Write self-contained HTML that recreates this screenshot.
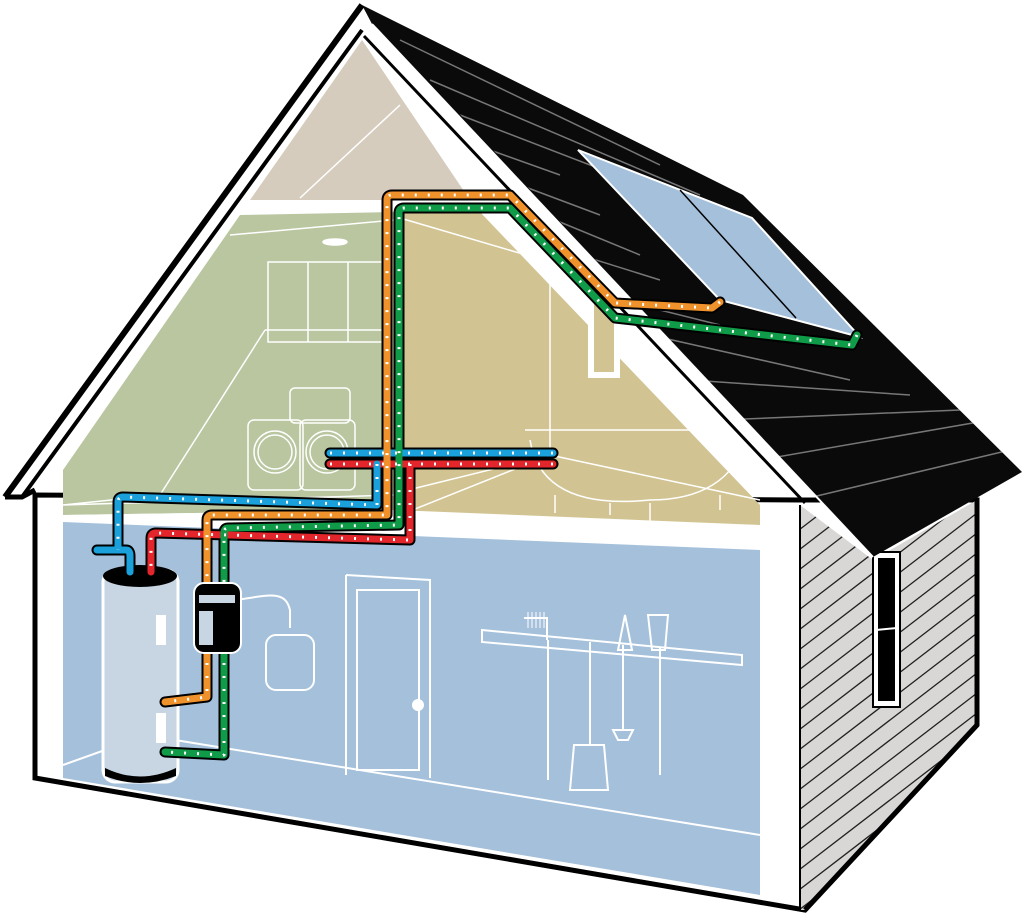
<!DOCTYPE html>
<html><head><meta charset="utf-8"><style>html,body{margin:0;padding:0;background:#fff;width:1024px;height:921px;overflow:hidden}svg{display:block}</style></head>
<body>
<svg width="1024" height="921" viewBox="0 0 1024 921" xmlns="http://www.w3.org/2000/svg">
<defs>
<clipPath id="sid"><polygon points="800,505 873,560 977,500 977,725 805,910 800,910"/></clipPath>
<clipPath id="roofc"><polygon points="372,20 362,5 743,195 1022,472 873,557"/></clipPath>
</defs>
<rect width="1024" height="921" fill="#fff"/>
<polygon points="35,495 35,778 805,910 977,725 977,500 800,500" fill="#fff" stroke="#000" stroke-width="5"/>
<polygon points="800,505 873,560 977,500 977,725 805,910 800,910" fill="#d9d7d5"/>
<g clip-path="url(#sid)" stroke="#222" stroke-width="1.3">
<path d="M760,560 l260,-200 M760,580 l260,-200 M760,600 l260,-200 M760,620 l260,-200 M760,640 l260,-200 M760,660 l260,-200 M760,680 l260,-200 M760,700 l260,-200 M760,720 l260,-200 M760,740 l260,-200 M760,760 l260,-200 M760,780 l260,-200 M760,800 l260,-200 M760,820 l260,-200 M760,840 l260,-200 M760,860 l260,-200 M760,880 l260,-200 M760,900 l260,-200 M760,920 l260,-200 M760,940 l260,-200 M760,960 l260,-200 M760,980 l260,-200 M760,1000 l260,-200"/>
</g>
<line x1="977" y1="500" x2="977" y2="725" stroke="#000" stroke-width="5"/>
<line x1="977" y1="725" x2="805" y2="910" stroke="#000" stroke-width="5"/>
<line x1="800" y1="505" x2="800" y2="910" stroke="#000" stroke-width="2"/>
<rect x="873" y="552" width="27" height="155" fill="#fff" stroke="#000" stroke-width="2"/>
<rect x="878" y="558" width="17" height="143" fill="#000"/>
<line x1="876" y1="630" x2="897" y2="628" stroke="#fff" stroke-width="2"/>

<polygon points="250,200 362,40 470,200" fill="#d5ccbe"/>
<line x1="300" y1="198" x2="400" y2="105" stroke="#fff" stroke-width="1.5"/>
<polygon points="63,470 240,215 395,212 395,510 63,515" fill="#b9c6a0"/>
<polygon points="395,212 480,212 760,505 760,525 395,520" fill="#d2c492"/>
<g stroke="#fff" stroke-width="1.5" fill="none">
<path d="M230,235 L395,220 M63,505 L395,495 M63,505 L160,495 M160,495 L265,330 M265,330 L385,330"/>
<path d="M400,218 L550,262 L550,455 M550,262 L590,262 M400,492 L550,455 L760,500 M400,515 L550,455"/>
<rect x="268" y="262" width="120" height="80"/>
<path d="M308,262 V342 M348,262 V342"/>
<ellipse cx="335" cy="242" rx="12" ry="3" fill="#fff"/>
<rect x="248" y="420" width="55" height="70" rx="6"/>
<rect x="300" y="420" width="55" height="70" rx="6"/>
<rect x="290" y="388" width="60" height="35" rx="5"/>
<circle cx="275" cy="452" r="21"/><circle cx="275" cy="452" r="17"/>
<circle cx="327" cy="452" r="21"/><circle cx="327" cy="452" r="17"/>
<path d="M525,430 H760 M530,440 C540,500 600,505 650,500 C700,500 735,480 745,440 M555,495 v18 M610,503 v12 M650,503 v18 M720,495 v15"/>
</g>
<rect x="588" y="290" width="32" height="88" fill="#fff"/>
<rect x="594" y="296" width="20" height="76" fill="#d2c492"/>
<polygon points="63,515 395,510 760,525 760,548 63,522" fill="#fff"/>
<polygon points="63,522 760,550 760,895 63,778" fill="#a4c0db"/>
<g stroke="#fff" stroke-width="2" fill="none">
<path d="M63,765 L105,750 M175,740 L760,835"/>
<path d="M346,575 V775 M346,575 L430,580 V778"/>
<rect x="357" y="590" width="62" height="180"/>
<circle cx="418" cy="705" r="5" fill="#fff"/>
<rect x="266" y="635" width="48" height="55" rx="10"/>
<path d="M236,600 C270,595 285,590 290,610 V628"/>
<polygon points="482,630 742,655 742,665 482,642"/>
<path d="M524,618 H547 V640 M548,640 V780 M590,642 V745 M574,745 L604,745 L608,790 L570,790 Z M623,645 V730 M613,730 L633,730 L628,740 L618,740 Z M625,615 L632,650 L618,650 Z M660,648 V775 M648,615 H668 L665,650 H652 Z"/>
</g>
<g stroke="#fff" stroke-width="1"><path d="M528,612 V628 M532,612 V628 M536,612 V628 M540,612 V628 M544,612 V628"/></g>
<rect x="103" y="570" width="75" height="212" rx="12" fill="#c8d6e4" stroke="#fff" stroke-width="3"/>
<ellipse cx="140" cy="576" rx="37" ry="11" fill="#000"/>
<path d="M105,768 Q140,785 176,768 L176,776 Q140,790 105,776Z" fill="#000"/>
<rect x="156" y="615" width="10" height="30" fill="#fff"/>
<rect x="156" y="713" width="10" height="30" fill="#fff"/>

<path d="M5,497 L362,5" stroke="#000" stroke-width="6"/>
<path d="M22,497 L362,30" stroke="#000" stroke-width="4"/>
<path d="M5,497 L22,497 L35,490" stroke="#000" stroke-width="5" fill="none"/>
<polygon points="362,5 743,195 1022,472 873,557 372,24" fill="#0a0a0a"/>
<g clip-path="url(#roofc)" stroke="#777" stroke-width="1.5">
<path d="M400,40 L660,165 M430,80 L700,195 M460,115 L720,215 M490,150 L560,175 M520,185 L600,215 M555,220 L640,255 M580,255 L660,280 M620,300 L720,325 M650,335 L850,380 M690,380 L910,395 M720,420 L960,410 M760,460 L990,420 M800,500 L1010,450"/>
</g>
<line x1="372" y1="24" x2="873" y2="557" stroke="#fff" stroke-width="2"/>
<line x1="364" y1="36" x2="805" y2="503" stroke="#000" stroke-width="3"/>
<polygon points="578,150 752,218 860,337 720,300" fill="#a4c0db" stroke="#fff" stroke-width="2"/>
<line x1="680" y1="190" x2="796" y2="318" stroke="#000" stroke-width="1.5"/>

<g fill="none" stroke-linejoin="round" stroke-linecap="round">
<g stroke="#000" stroke-width="11">
<path d="M553,453 H330"/><path d="M553,464 H330"/>
<path d="M720,302 L712,308 L615,303 L510,195 L392,195 Q387,195 387,200 V515 L212,515 Q207,515 207,520 V600"/>
<path d="M207,650 V697 L165,702"/>
<path d="M857,335 L852,345 L615,318 L510,208 L404,208 Q399,208 399,213 V525 L228,528 Q224,528 224,533 V600"/>
<path d="M224,650 V755 L165,752"/>
<path d="M377,464 V505 L123,497 Q118,497 118,502 V550 L97,550 M118,550 H126 Q130,550 130,556 V572"/>
<path d="M410,464 V540 L156,533 Q151,533 151,538 V572"/>
</g>
<path d="M553,453 H330" stroke="#1aa0db" stroke-width="7"/>
<path d="M553,464 H330" stroke="#e3262b" stroke-width="7"/>
<path d="M377,464 V505 L123,497 Q118,497 118,502 V550 L97,550 M118,550 H126 Q130,550 130,556 V572" stroke="#1aa0db" stroke-width="7"/>
<path d="M410,464 V540 L156,533 Q151,533 151,538 V572" stroke="#e3262b" stroke-width="7"/>
<path d="M857,335 L852,345 L615,318 L510,208 L404,208 Q399,208 399,213 V525 L228,528 Q224,528 224,533 V600" stroke="#109b48" stroke-width="7"/>
<path d="M224,650 V755 L165,752" stroke="#109b48" stroke-width="7"/>
<path d="M720,302 L712,308 L615,303 L510,195 L392,195 Q387,195 387,200 V515 L212,515 Q207,515 207,520 V600" stroke="#f0922b" stroke-width="7"/>
<path d="M207,650 V697 L165,702" stroke="#f0922b" stroke-width="7"/>
<g stroke="#fff" stroke-width="3" stroke-dasharray="2 11" stroke-linecap="butt">
<path d="M553,453 H330"/><path d="M553,464 H330"/>
<path d="M377,464 V505 L123,497 Q118,497 118,502 V550"/>
<path d="M410,464 V540 L156,533 Q151,533 151,538 V572"/>
<path d="M857,335 L852,345 L615,318 L510,208 L404,208 Q399,208 399,213 V525 L228,528 Q224,528 224,533 V600"/>
<path d="M224,650 V755 L165,752"/>
<path d="M720,302 L712,308 L615,303 L510,195 L392,195 Q387,195 387,200 V515 L212,515 Q207,515 207,520 V600"/>
<path d="M207,650 V697 L165,702"/>
</g>
</g>
<rect x="194" y="583" width="47" height="70" rx="10" fill="#000" stroke="#fff" stroke-width="2"/>
<rect x="199" y="595" width="36" height="8" fill="#c8d6e4"/>
<rect x="199" y="611" width="14" height="34" fill="#c8d6e4"/>
</svg>
</body></html>
